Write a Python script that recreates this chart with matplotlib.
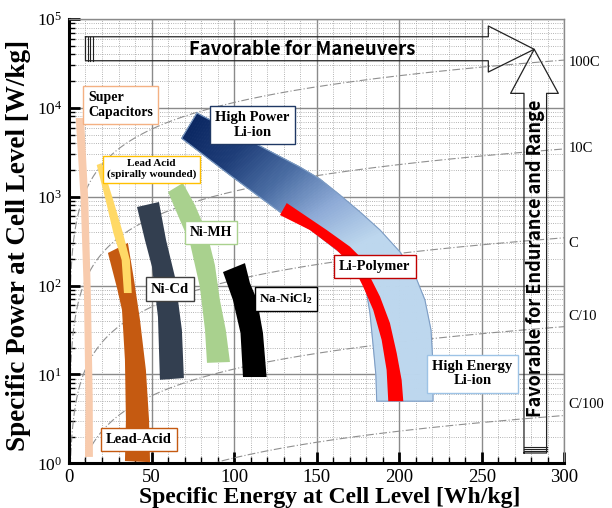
import numpy as np
import matplotlib
matplotlib.use("Agg")
import matplotlib.pyplot as plt
from matplotlib.colors import LinearSegmentedColormap
from matplotlib.ticker import MultipleLocator, LogLocator, NullFormatter

plt.rcParams['font.family'] = 'Liberation Serif'
plt.rcParams['mathtext.fontset'] = 'custom'
plt.rcParams['mathtext.rm'] = 'Liberation Serif'
plt.rcParams['mathtext.it'] = 'Liberation Serif:italic'
plt.rcParams['mathtext.bf'] = 'Liberation Serif:bold'

SANS = ['Noto Sans CJK KR', 'DejaVu Sans']

# DATA: region outlines as (specific energy Wh/kg, specific power W/kg)
# "a" = one long edge (top -> bottom), "b" = the other long edge
supercap_a = [(4.1, 7690), (7.1, 918), (9.1, 74.6), (10.0, 5.15), (9.7, 1.18)]
supercap_b = [(9.1, 7690), (11.7, 918), (13.3, 74.6), (14.4, 5.15), (14.5, 1.18)]

spiral_a = [(16.8, 2274), (22.2, 918), (26.9, 390), (31.9, 194), (33.3, 82.4)]
spiral_b = [(19.8, 2393), (26.8, 918), (32.7, 390), (36.9, 194), (38.0, 82.4)]

lead_a = [(23.6, 233), (29.1, 93.8), (32.1, 53.3), (33.9, 14.6), (34.5, 3.07), (33.9, 1.06)]
lead_b = [(35.7, 302), (39.4, 116), (43.0, 41.2), (46.6, 11.2), (48.5, 3.07), (49.1, 1.03)]

nicd_a = [(41.2, 766), (46.0, 326), (50.3, 162), (53.9, 44.5), (55.1, 8.7)]
nicd_b = [(54.5, 872), (58.8, 326), (64.2, 125), (68.4, 31.6), (69.6, 9.1)]

nimh_a = [(60.0, 1130), (67.2, 547), (73.3, 301), (79.3, 96.4), (82.4, 31.6), (83.6, 13.5)]
nimh_b = [(69.0, 1426), (76.3, 806), (83.6, 390), (88.4, 170), (91.4, 68.9), (95.0, 31.6),
          (97.5, 13.8)]

nanicl_a = [(93.3, 142), (99.3, 68.8), (103.9, 29.3), (105.4, 9.35)]
nanicl_b = [(106.6, 179), (109.6, 107), (113.9, 68.8), (117.5, 29.3), (119.7, 9.35)]

liion_a = [(77.5, 8750), (115.7, 3718), (139.9, 2158), (152.0, 1582), (164.1, 1045),
           (176.3, 673), (188.4, 422), (200.5, 239), (209.6, 131), (215.6, 68.8),
           (219.3, 31.6), (220.5, 12.8), (220.5, 5.0)]
liion_b = [(68.3, 4540), (97.5, 1754), (127.8, 673), (145.9, 433), (162.3, 251),
           (175.0, 170), (180.3, 82.5), (182.3, 49.1), (184.3, 20.5), (185.9, 9.85),
           (186.4, 5.0)]

lipo_a = [(131.9, 849), (156.1, 422), (170.2, 274), (176.3, 211), (182.3, 126), (188.4, 75),
          (194.4, 37.9), (198.5, 17.4), (201.5, 8.65), (202.5, 5.0)]
lipo_b = [(127.8, 622), (145.9, 422), (162.1, 251), (172.2, 163), (178.2, 97.1),
          (184.3, 53.1), (189.4, 24.4), (192.4, 11.2), (193.4, 5.0)]

# C-rate reference lines (P = rate * E)
c_rates = [115, 11.5, 1.15, 0.115, 0.0115]
c_labels = ['100C', '10C', 'C', 'C/10', 'C/100']
c_label_p = [32700, 3530, 301, 45.4, 4.53]

E_MAX = 300


def band(ax, a, b, color, z):
    pts = list(a) + list(b)[::-1]
    ax.fill([p[0] for p in pts], [p[1] for p in pts], color=color, lw=0, zorder=z)


def resample(edge, n):
    e = np.array([p[0] for p in edge], dtype=float)
    lp = np.log10([p[1] for p in edge])
    u, v = e / 300 * 495, lp * 88.9
    s = np.concatenate([[0], np.cumsum(np.hypot(np.diff(u), np.diff(v)))])
    s /= s[-1]
    t = np.linspace(0, 1, n)
    return np.interp(t, s, e), 10 ** np.interp(t, s, lp)


fig = plt.figure(figsize=(6.12, 5.08), dpi=100)
ax = fig.add_axes([0.1127, 0.088, 0.8093, 0.8746])
ax.set_yscale('log')
ax.set_xlim(0, E_MAX)
ax.set_ylim(1, 1e5)

# grid
ax.xaxis.set_major_locator(MultipleLocator(50))
ax.xaxis.set_minor_locator(MultipleLocator(10))
ax.yaxis.set_major_locator(LogLocator(base=10, numticks=10))
ax.yaxis.set_minor_locator(LogLocator(base=10, subs=np.arange(2, 10), numticks=20))
ax.yaxis.set_minor_formatter(NullFormatter())
ax.grid(which='major', color='#8a8a8a', lw=1.0, zorder=0)
ax.grid(which='minor', color='#9c9c9c', lw=0.6, ls=':', zorder=0)
ax.set_axisbelow(True)

# C-rate lines
e_line = np.linspace(0.001, E_MAX, 3000)
for rate in c_rates:
    ax.plot(e_line, rate * e_line, color='#8f8f8f', lw=0.8, ls=(0, (7, 2, 1, 2)), zorder=1)
for lab, p in zip(c_labels, c_label_p):
    ax.text(1.008, p, lab, transform=ax.get_yaxis_transform(), fontsize=10.5,
            va='center', ha='left', clip_on=False)

# simple bands
band(ax, supercap_a, supercap_b, '#F8CBAD', 3)
band(ax, lead_a, lead_b, '#C55A11', 3)
band(ax, spiral_a, spiral_b, '#FFD966', 3.1)
band(ax, nicd_a, nicd_b, '#333F50', 3)
band(ax, nimh_a, nimh_b, '#A9D18E', 3)
band(ax, nanicl_a, nanicl_b, '#000000', 3)

# Li-ion band with gradient along its length
grad = LinearSegmentedColormap.from_list(
    'li', ['#0B2762', '#1E3D78', '#4A6DA3', '#8DAAD6', '#BDD7EE'])
n = 160
ua, pa = resample(liion_a, n)
ub, pb = resample(liion_b, n)
for i in range(n - 1):
    t = min(i / (n - 1) / 0.55, 1.0)
    c = grad(t)
    ax.fill([ua[i], ua[i + 1], ub[i + 1], ub[i]], [pa[i], pa[i + 1], pb[i + 1], pb[i]],
            color=c, lw=0.6, ec=c, zorder=3)
outline = list(liion_a) + list(liion_b)[::-1] + [liion_a[0]]
ax.plot([p[0] for p in outline], [p[1] for p in outline], color='#7E9DC4', lw=0.8, zorder=3.2)

band(ax, lipo_a, lipo_b, '#FF0000', 3.5)

# arrows (outline only)
h_arrow = [(10.0, 63100), (254.0, 63100), (254.0, 83400), (281.8, 45600), (254.0, 25300),
           (254.0, 33900), (10.0, 33900), (10.0, 63100)]
v_arrow = [(275.6, 1.306), (275.6, 14560), (267.5, 14560), (281.8, 45600), (296.4, 14560),
           (289.3, 14560), (289.3, 1.306), (275.6, 1.306)]
for arr in (h_arrow, v_arrow):
    ax.plot([p[0] for p in arr], [p[1] for p in arr], color='#222222', lw=0.9, zorder=4)
for xe in (11.4, 12.8, 14.3):
    ax.plot([xe, xe], [33900, 63100], color='#222222', lw=0.8, zorder=4)
for yp in (1.38, 1.45, 1.54):
    ax.plot([275.6, 289.3], [yp, yp], color='#222222', lw=0.8, zorder=4)

ax.text(141, 45900, 'Favorable for Maneuvers', family=SANS, fontweight='bold',
        fontsize=13.3, ha='center', va='center', zorder=6)
ax.text(282.4, 204, 'Favorable for Endurance and Range', family=SANS,
        fontweight='bold', fontsize=13, rotation=90, ha='center', va='center', zorder=6)

# labels
labels = [
    (31.2, 10770, 'Super\nCapacitors', '#F4B183', 10, 'left'),
    (50.0, 2050, 'Lead Acid\n(spirally wounded)', '#FFC000', 8, 'center'),
    (111.1, 6410, 'High Power\nLi-ion', '#1F3864', 10.5, 'center'),
    (86.0, 395, 'Ni-MH', '#A9D18E', 10, 'center'),
    (61.2, 91.5, 'Ni-Cd', '#404040', 10.5, 'center'),
    (131.4, 71.5, r'Na-NiCl$_{\mathbf{2}}$', '#000000', 9.5, 'center'),
    (185.3, 164, 'Li-Polymer', '#C00000', 10.5, 'center'),
    (244.4, 10.2, 'High Energy\nLi-ion', '#9DC3E6', 10.5, 'center'),
    (42.4, 1.85, 'Lead-Acid', '#C55A11', 10.5, 'center'),
]
for xe, yp, s, ec, fs, ma in labels:
    ax.text(xe, yp, s, ha='center', va='center', fontsize=fs, fontweight='bold',
            multialignment=ma, linespacing=1.15, zorder=7,
            bbox=dict(boxstyle='square,pad=0.35', fc='white', ec=ec, lw=1.0))

# axes styling
for side in ('left', 'bottom'):
    ax.spines[side].set_linewidth(2.2)
    ax.spines[side].set_color('black')
for side in ('top', 'right'):
    ax.spines[side].set_linewidth(1.0)
    ax.spines[side].set_color('#8a8a8a')
ax.tick_params(which='major', direction='in', length=8, width=2.0, labelsize=12.5,
               top=False, right=False, pad=5)
ax.tick_params(axis='x', labelsize=13.5, pad=4)
ax.tick_params(which='minor', direction='in', length=4, width=1.0, top=False, right=False)

ax.set_xlabel('Specific Energy at Cell Level [Wh/kg]', fontsize=17, fontweight='bold')
ax.xaxis.set_label_coords(0.527, -0.077)
ax.xaxis.label.set_verticalalignment('center')
ax.set_ylabel('Specific Power at Cell Level [W/kg]', fontsize=19.5, fontweight='bold')
ax.yaxis.set_label_coords(-0.101, 0.491)
ax.yaxis.label.set_verticalalignment('center')

fig.savefig('out.png', dpi=100)
